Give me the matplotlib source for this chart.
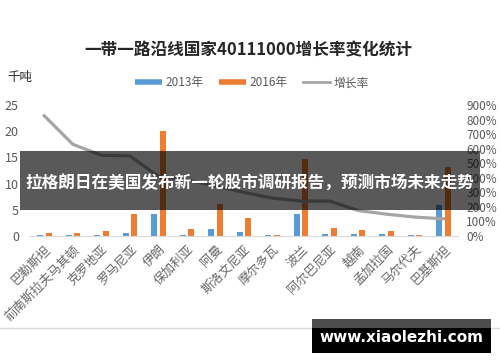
import numpy as np
import matplotlib
matplotlib.use('Agg')
import matplotlib.pyplot as plt
from matplotlib.lines import Line2D
from matplotlib.patches import Rectangle

plt.rcParams['font.family'] = ['Noto Sans CJK SC', 'DejaVu Sans']

# countries along the belt and road
countries = ['巴勒斯坦', '前南斯拉夫马其顿', '克罗地亚', '罗马尼亚', '伊朗', '保加利亚', '阿曼',
             '斯洛文尼亚', '摩尔多瓦', '波兰', '阿尔巴尼亚', '越南', '孟加拉国', '马尔代夫', '巴基斯坦']
# thousand tons
v2013 = [0.2, 0.2, 0.1, 0.6, 4.2, 0.1, 1.4, 0.8, 0.15, 4.2, 0.4, 0.4, 0.4, 0.15, 5.9]
v2016 = [0.5, 0.5, 1.0, 4.2, 20.0, 1.4, 6.1, 3.4, 0.15, 14.6, 1.6, 1.15, 0.95, 0.15, 13.1]
# growth rate, percent
growth = [826, 630, 555, 550, 410, 385, 345, 300, 260, 240, 240, 175, 150, 130, 118]

left_ticks = [0, 5, 10, 15, 20, 25]
right_ticks = [0, 100, 200, 300, 400, 500, 600, 700, 800, 900]

blue = '#5b9bd5'
orange = '#ed7d31'
gray = '#a5a5a5'
txt = '#595959'

fig = plt.figure(figsize=(5, 3.62), dpi=100)
ax = fig.add_axes([0.06, 0.348, 0.856, 0.362])
x = np.arange(len(countries))
w = 0.21
ax.bar(x - 0.15, v2013, w, color=blue, zorder=2)
ax.bar(x + 0.15, v2016, w, color=orange, zorder=2)
ax.set_xlim(-0.5, len(countries) - 0.5)
ax.set_ylim(0, 25)
ax.set_yticks(left_ticks)
ax.set_yticklabels([str(t) for t in left_ticks])
ax.set_xticks(x)
ax.set_xticklabels(countries)
ax.tick_params(axis='y', length=0, pad=8, labelsize=9, labelcolor=txt)
ax.tick_params(axis='x', length=0, pad=5, labelsize=9, labelcolor='#666666')
plt.setp(ax.get_xticklabels(), rotation=45, ha='right', rotation_mode='anchor')
for s in ['top', 'right', 'left']:
    ax.spines[s].set_visible(False)
ax.spines['bottom'].set_color('#d9d9d9')

ax2 = ax.twinx()
ax2.plot(x, growth, color=gray, lw=2.3, zorder=3)
ax2.set_ylim(0, 900)
ax2.set_yticks(right_ticks)
ax2.set_yticklabels(['%d%%' % t for t in right_ticks])
ax2.tick_params(axis='y', length=0, pad=6, labelsize=8.5, labelcolor=txt)
for s in ax2.spines.values():
    s.set_visible(False)

fig.text(0.497, 0.862, '一带一路沿线国家40111000增长率变化统计', ha='center', va='center',
         fontsize=12, fontweight='bold', color='#262626')
fig.text(0.014, 0.787, '千吨', ha='left', va='center', fontsize=9, color='#262626')

handles = [Line2D([], [], color=blue, lw=4, solid_capstyle='butt'),
           Line2D([], [], color=orange, lw=4, solid_capstyle='butt'),
           Line2D([], [], color=gray, lw=2)]
fig.legend(handles, ['2013年', '2016年', '增长率'], loc='center', bbox_to_anchor=(0.504, 0.771),
           ncol=3, frameon=False, fontsize=8.5, handlelength=2.3, handletextpad=0.3,
           columnspacing=1.3, labelcolor=txt)

# bottom border of the screenshot
fig.add_artist(Line2D([0, 1], [0.094, 0.094], color='#d9d9d9', lw=1))

# news banner over the chart
fig.add_artist(Rectangle((0.04, 0.42), 0.92, 0.163, transform=fig.transFigure,
                         facecolor='black', alpha=0.65, zorder=10))
fig.text(0.5, 0.494, '拉格朗日在美国发布新一轮股市调研报告，预测市场未来走势', ha='center', va='center',
         fontsize=12, fontweight='bold', color='white', zorder=11)

# watermark
fig.add_artist(Rectangle((0.624, 0.025), 0.358, 0.069, transform=fig.transFigure,
                         facecolor='black', zorder=10))
fig.add_artist(Rectangle((0.624, 0.094), 0.358, 0.025, transform=fig.transFigure,
                         facecolor='#4d4d4d', zorder=10))
fig.text(0.802, 0.069, 'www.xiaolezhi.com', ha='center', va='center', fontsize=11,
         fontweight='bold', color='white', family='DejaVu Sans', zorder=11)

fig.savefig('out.png', dpi=100)
